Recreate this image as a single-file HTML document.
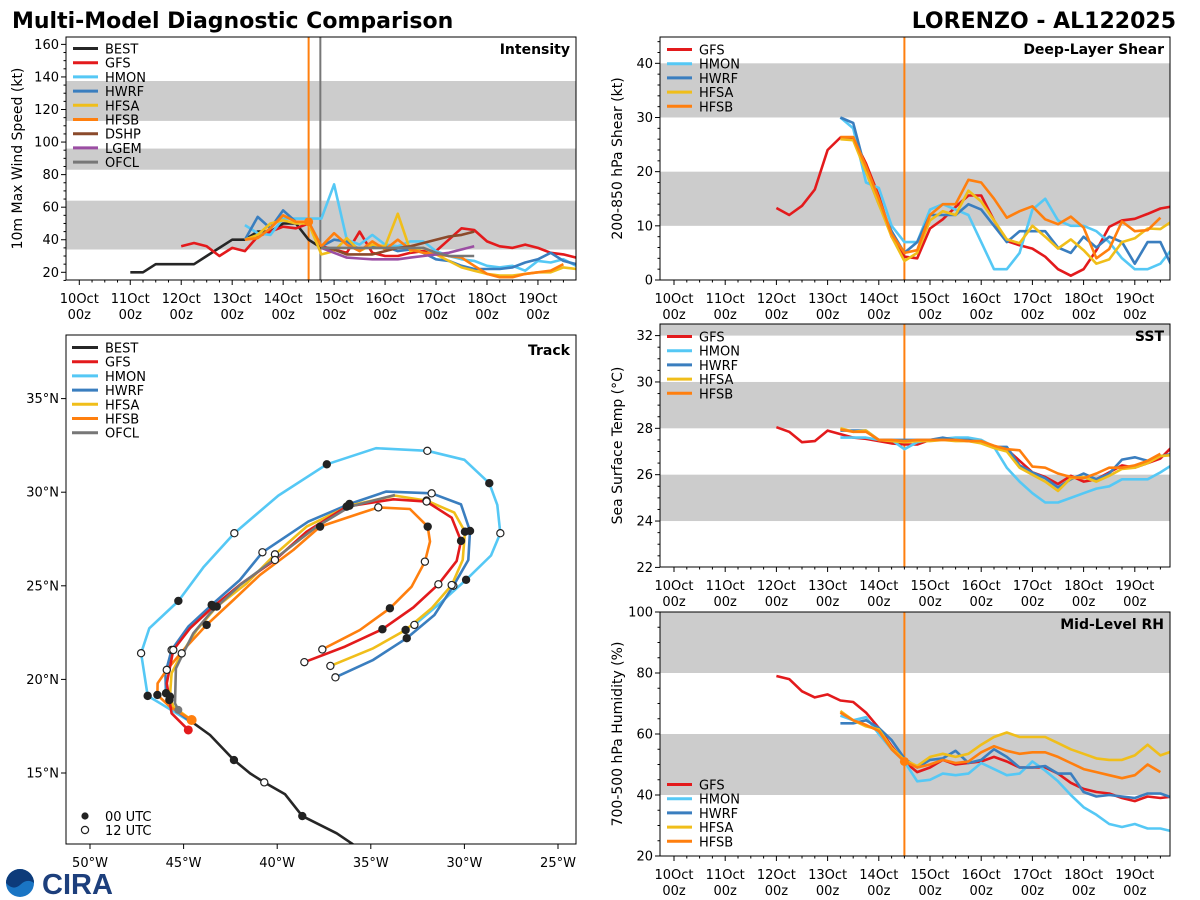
<!DOCTYPE html>
<html><head><meta charset="utf-8"><style>
body{margin:0;background:#fff;}
svg{display:block;font-family:"DejaVu Sans","Liberation Sans",sans-serif;}
</style></head><body>
<svg id="fig" width="1200" height="900" viewBox="0 0 1200 900" xmlns="http://www.w3.org/2000/svg">
<rect width="1200" height="900" fill="#fff"/>
<text x="12" y="28" font-size="22" font-weight="bold" fill="#000">Multi-Model Diagnostic Comparison</text>
<text x="1176" y="28" font-size="22" font-weight="bold" text-anchor="end" fill="#000">LORENZO - AL122025</text>
<g>
<circle cx="20" cy="883" r="14" fill="#1a75c4"/>
<path d="M6,883 a14,14 0 0 1 28,0 q-7,-5 -14,2 q-7,6 -14,-2z" fill="#0d3b7a"/>
<text x="42" y="894" font-size="29" font-weight="bold" fill="#1d3f7c" font-family="Liberation Sans,sans-serif">CIRA</text>
</g>
</svg>
<script>
const C={BEST:'#262626',GFS:'#e31a1c',HMON:'#55c8f5',HWRF:'#3a7ebf',HFSA:'#f0be1a',HFSB:'#ff7f0e',DSHP:'#8b4a2b',LGEM:'#9b4ea3',OFCL:'#777777'};
const dayLabels=['10Oct','11Oct','12Oct','13Oct','14Oct','15Oct','16Oct','17Oct','18Oct','19Oct'];
// Intensity (kt), 6-hourly, start day offset from 10Oct 00z
const intBEST=[20,20,25,25,25,25,30,35,40,40,45,45,50,50,40,35];
const intGFS=[36,38,36,30,35,33,42,45,48,47,50,36,34,32,45,32,30,30,32,33,33,40,47,46,39,36,35,37,35,32,31,29];
const intHMON=[49,44,43,53,53,53,53,74,40,37,43,37,36,39,39,33,30,28,27,24,23,24,21,27,26,28,24];
const intHWRF=[40,54,47,58,51,51,36,40,39,34,36,36,33,34,32,28,27,24,22,22,22,23,26,28,32,27,25];
const intHFSA=[40,43,50,52,50,50,31,33,41,33,37,36,56,33,35,31,27,23,21,19,18,18,19,20,20,23,22];
const intHFSB=[40,41,47,55,51,51,36,44,37,33,39,34,40,34,32,31,30,29,24,19,17,17,19,20,21,25];
const intDSHP=[35,34,31,31,31,33,35,36,38,40,42,43,45];
const intLGEM=[35,32,29,28.5,28,28,28,29,30,31,32,34,36];
const intOFCL=[35,35,35,35,35,35,35,35,35,32,30,30,30];
// Shear (kt)
const shGFS=[13.3,12,13.7,16.7,24,26.3,26.2,21.5,15.5,8,4.3,4,9.5,11.2,13.5,15.6,15.6,11,7.2,6.4,5.8,4.3,2,0.8,2,5.5,9.8,11,11.3,12.2,13.2,13.6];
const shHMON=[30,28,18,17,10,7,7,13,14,13,12,7,2,2,5,13,15,11,10,10,9,7,4,2,2,3,6];
const shHWRF=[30,29,20,14,9,5,7,12,12,12,14,13,10,7,9,9,9,6,5,8,6,8,7,3,7,7,2];
const shHFSA=[26,25.8,20,14,8,3.5,5,11,12.7,12,16.5,14.5,11,7.5,6.8,10,8,5.8,7.5,5.5,3,3.8,7,7.7,9.5,9.4,11];
const shHFSB=[26.4,26.4,21,15,8.5,5,5.5,12,14,14,18.5,18,15,11.5,12.7,13.6,11.2,10.3,11.7,9.7,4,5.7,10.8,9,9.2,11.5];
// SST (C)
const sstGFS=[28.05,27.85,27.4,27.45,27.9,27.75,27.6,27.55,27.45,27.35,27.3,27.3,27.5,27.55,27.5,27.45,27.4,27.2,27.1,26.6,26.1,25.9,25.6,25.95,25.7,25.8,26.1,26.4,26.3,26.5,26.7,27.25];
const sstHMON=[27.6,27.6,27.6,27.5,27.5,27.1,27.4,27.5,27.55,27.6,27.6,27.5,27.2,26.3,25.7,25.2,24.8,24.8,25.0,25.2,25.4,25.5,25.8,25.8,25.8,26.1,26.45];
const sstHWRF=[27.9,27.9,27.9,27.5,27.5,27.5,27.5,27.5,27.6,27.5,27.5,27.4,27.2,27.2,26.4,26.1,25.85,25.45,25.8,26.05,25.8,26.05,26.65,26.75,26.6,26.8,26.9];
const sstHFSA=[28.0,27.85,27.9,27.5,27.45,27.4,27.45,27.45,27.5,27.45,27.45,27.35,27.15,27.0,26.3,26.0,25.7,25.3,25.85,25.9,25.7,25.95,26.25,26.3,26.5,26.8,26.85];
const sstHFSB=[27.95,27.85,27.85,27.5,27.5,27.45,27.5,27.5,27.5,27.5,27.45,27.45,27.25,27.1,27.05,26.35,26.3,26.05,25.9,25.85,26.05,26.3,26.3,26.4,26.6,26.9];
// Mid-level RH (%)
const rhGFS=[79,78,74,72,73,71,70.5,67,62,56,51,47.5,49,51.5,50,50.5,51,52.5,51,49,49,49,47,44,42,41,40.5,39,38,39.5,39,39.5];
const rhHMON=[66,64.5,65.5,60,55,51,44.5,45,47,46.5,47,50.5,48.5,46.5,47,51,48,44.5,40,36,33.5,30.5,29.5,30.5,29,29,28];
const rhHWRF=[63.5,63.5,64.5,62,58,52,49,51.5,52,54.5,50.5,51.5,55,52.5,49,49,49.5,47,47,41,39.5,40,39.5,39,40.5,40.5,39];
const rhHFSA=[67.5,64.5,62.5,61.5,55.5,51.5,49.5,52.5,53.5,52.5,53.5,56.5,59,60.5,59,59,59,57,55,53.5,52,51.5,51.5,53,56.5,53,54.5];
const rhHFSB=[67,64.5,63,61,55,51,49,50,51.5,50.5,51,54,56,54.5,53.5,54,54,52.5,50.5,48.5,47.5,46.5,45.5,46.5,50,47.5];
// Track: west longitude, latitude, marker (f=00UTC, o=12UTC)
const trBESTlon=[44.57,43.59,42.31,41.45,40.69,39.58,38.66,36.82,36.02,34.87];
const trBESTlat=[17.74,17.03,15.69,14.98,14.50,13.86,12.70,11.78,11.24,10.35];
const trBESTmk=['','','f','','o','','f','','',''];
const trHMONlon=[44.66,46.26,46.92,47.27,46.83,45.28,43.94,42.29,39.94,37.35,34.72,31.98,30.00,28.67,28.24,28.08,28.58,29.91,31.30,32.67];
const trHMONlat=[17.75,18.73,19.12,21.40,22.73,24.19,25.99,27.81,29.82,31.49,32.35,32.21,31.73,30.48,29.32,27.81,26.62,25.32,24.07,22.91];
const trHMONmk=['','','f','o','','f','','o','','f','','o','','f','','o','','f','','o'];
const trHWRFlon=[44.66,45.46,45.94,45.97,45.64,44.75,43.50,41.99,40.79,38.34,36.14,34.19,31.75,30.18,29.70,29.79,30.59,31.60,33.08,34.87,36.89];
const trHWRFlat=[17.75,18.37,19.26,20.33,21.57,22.82,23.98,25.31,26.79,28.43,29.37,30.03,29.94,29.35,27.93,26.38,25.00,23.44,22.20,21.04,20.11];
const trHWRFmk=['','','f','','o','','f','','o','','f','','o','','f','','o','','f','','o'];
const trGFSlon=[44.75,45.64,45.76,45.90,45.55,44.66,43.41,41.90,40.12,38.43,36.29,33.80,32.02,30.68,30.18,30.41,31.39,32.73,34.38,36.38,38.55];
const trGFSlat=[17.30,18.19,18.90,19.79,21.57,22.73,23.89,25.13,26.38,27.89,29.23,29.62,29.50,28.64,27.40,26.33,25.08,23.84,22.68,21.75,20.92];
const trGFSmk=['','','f','','o','','f','','o','','f','','o','','f','','o','','f','','o'];
const trHFSAlon=[44.57,45.55,45.73,45.64,45.10,44.30,43.23,41.63,40.12,38.43,36.14,33.71,32.02,30.54,29.97,30.09,30.68,31.75,33.14,34.87,37.16];
const trHFSAlat=[17.83,18.54,19.08,20.33,21.39,22.64,23.89,25.13,26.68,28.16,29.28,29.82,29.55,28.91,27.89,26.38,25.04,23.80,22.64,21.66,20.72];
const trHFSAmk=['','','f','','o','','f','','o','','f','','o','','f','','o','','f','','o'];
const trHFSBlon=[44.57,45.73,46.40,46.39,45.90,45.01,43.77,42.34,40.92,39.14,37.71,35.58,34.60,32.91,31.96,31.84,32.11,32.82,33.98,35.58,37.59];
const trHFSBlat=[17.83,18.54,19.17,19.79,20.51,21.57,22.91,24.24,25.58,26.91,28.16,28.87,29.19,29.10,28.16,27.36,26.29,24.95,23.80,22.64,21.60];
const trHFSBmk=['','','f','','o','','f','','','','f','','o','','f','','o','','f','','o'];
const trOFCLlon=[45.28,45.46,45.41,45.19,44.48,43.59,41.99,40.21,37.89,36.11,33.71];
const trOFCLlat=[18.37,18.72,20.59,21.04,22.46,23.53,25.04,26.38,28.16,29.23,29.85];

const NS='http://www.w3.org/2000/svg';
const svg=document.getElementById('fig');
function el(tag,attrs,parent){const e=document.createElementNS(NS,tag);for(const k in attrs)e.setAttribute(k,attrs[k]);(parent||svg).appendChild(e);return e;}
function txt(s,attrs,parent){const e=el('text',attrs,parent);e.textContent=s;return e;}

function makePanel(p){
  const g=el('g',{});
  
  
  const cid='clip-'+p.name;
  const cp=el('clipPath',{id:cid},g);el('rect',{x:p.x0,y:p.y0,width:p.x1-p.x0,height:p.y1-p.y0},cp);
  const ys=v=>p.yb-(v-p.vb)*p.ppv;
  const xs=t=>p.xb+p.ppd*t;
  p.bands.forEach(b=>{const r=el('rect',{x:p.x0,y:Math.max(p.y0,ys(b[1])),width:p.x1-p.x0,height:Math.min(p.y1,ys(b[0]))-Math.max(p.y0,ys(b[1])),fill:'#cccccc'},g);
    });
  for(let v=p.ymin;v<=p.ymax+1e-6;v+=p.minor){const y=ys(v);if(y<p.y0-0.5||y>p.y1+0.5)continue;
    const maj=Math.abs(v/p.major-Math.round(v/p.major))<1e-6;
    el('line',{x1:p.x0,x2:p.x0-(maj?5:2.5),y1:y,y2:y,stroke:'#000','stroke-width':1},g);
    if(maj){const t=txt(String(Math.round(v*10)/10),{x:p.x0-7,y:y+4.5,'font-size':13,'text-anchor':'end'},g);}}
  for(let q=0;q<40;q++){const t=q/4;const x=xs(t);if(x>p.x1)break;const maj=q%4===0;
    el('line',{x1:x,x2:x,y1:p.y1,y2:p.y1+(maj?5:2.5),stroke:'#000','stroke-width':1},g);
    if(maj){const a=txt(dayLabels[q/4],{x:x,y:p.y1+23,'font-size':13,'text-anchor':'middle'},g);
      const b=txt('00z',{x:x,y:p.y1+39,'font-size':13,'text-anchor':'middle'},g);}}
  const yl=txt(p.ylabel,{x:0,y:0,'font-size':14,'text-anchor':'middle',transform:`translate(${p.ylx},${(p.y0+p.y1)/2}) rotate(-90)`},g);
  
  const lines=el('g',{'clip-path':`url(#${cid})`},g);
  p.vlines.forEach(v=>{const l=el('line',{x1:xs(v[0]),x2:xs(v[0]),y1:p.y0,y2:p.y1,stroke:v[1],'stroke-width':2},lines);});
  p.series.forEach(s=>{const pts=s.vals.map((v,i)=>xs(s.t0+i*0.25).toFixed(1)+','+ys(v).toFixed(1)).join(' ');
    const pl=el('polyline',{points:pts,fill:'none',stroke:C[s.m],'stroke-width':2.6,'stroke-linejoin':'round'},lines);
    });
  if(p.dot){const d=el('circle',{cx:xs(p.dot[0]),cy:ys(p.dot[1]),r:4.5,fill:C.HFSB},lines);}
  el('rect',{x:p.x0,y:p.y0,width:p.x1-p.x0,height:p.y1-p.y0,fill:'none',stroke:'#000','stroke-width':1},g);
  const tt=txt(p.title,{x:p.x1-6,y:p.y0+17,'font-size':14,'font-weight':'bold','text-anchor':'end'},g);
  const lg=el('g',{},g);
  p.legend.forEach((m,i)=>{const y=p.legY+i*p.legDy;
    const e=el('g',{},lg);
    el('line',{x1:p.x0+7,x2:p.x0+32,y1:y,y2:y,stroke:C[m],'stroke-width':3},e);
    txt(m,{x:p.x0+39,y:y+5,'font-size':13},e);});
}
const leg5=['GFS','HMON','HWRF','HFSA','HFSB'];
makePanel({name:'intensity',x0:66,x1:576,y0:37,y1:280,xb:79.3,ppd:50.96,yb:272.3,vb:20,ppv:1.628,ymin:15,ymax:165,major:20,minor:5,
  bands:[[34,64],[83,96],[113,137.5]],ylabel:'10m Max Wind Speed (kt)',ylx:22,title:'Intensity',vlines:[[4.5,C.HFSB],[4.73,'#777777']],
  series:[{m:'BEST',t0:1,vals:intBEST},{m:'GFS',t0:2,vals:intGFS},{m:'HMON',t0:3.25,vals:intHMON},{m:'HWRF',t0:3.25,vals:intHWRF},{m:'HFSA',t0:3.25,vals:intHFSA},{m:'HFSB',t0:3.25,vals:intHFSB},{m:'DSHP',t0:4.75,vals:intDSHP},{m:'LGEM',t0:4.75,vals:intLGEM},{m:'OFCL',t0:4.75,vals:intOFCL}],
  dot:[4.5,51],legend:['BEST','GFS','HMON','HWRF','HFSA','HFSB','DSHP','LGEM','OFCL'],legY:48.5,legDy:14.2});
makePanel({name:'shear',x0:660,x1:1170,y0:37,y1:280,xb:674,ppd:51.2,yb:280,vb:0,ppv:5.417,ymin:0,ymax:45,major:10,minor:2,
  bands:[[10,20],[30,40]],ylabel:'200-850 hPa Shear (kt)',ylx:622,title:'Deep-Layer Shear',vlines:[[4.5,C.HFSB]],
  series:[{m:'GFS',t0:2,vals:shGFS},{m:'HMON',t0:3.25,vals:shHMON},{m:'HWRF',t0:3.25,vals:shHWRF},{m:'HFSA',t0:3.25,vals:shHFSA},{m:'HFSB',t0:3.25,vals:shHFSB}],
  legend:leg5,legY:49.5,legDy:14.2});
makePanel({name:'sst',x0:660,x1:1170,y0:324,y1:567,xb:674,ppd:51.2,yb:567.4,vb:22,ppv:23.18,ymin:22,ymax:32.4,major:2,minor:0.5,
  bands:[[24,26],[28,30],[32,33]],ylabel:'Sea Surface Temp (°C)',ylx:622,title:'SST',vlines:[[4.5,C.HFSB]],
  series:[{m:'GFS',t0:2,vals:sstGFS},{m:'HMON',t0:3.25,vals:sstHMON},{m:'HWRF',t0:3.25,vals:sstHWRF},{m:'HFSA',t0:3.25,vals:sstHFSA},{m:'HFSB',t0:3.25,vals:sstHFSB}],
  legend:leg5,legY:336.5,legDy:14.2});
makePanel({name:'rh',x0:660,x1:1170,y0:612,y1:856,xb:674,ppd:51.2,yb:856,vb:20,ppv:3.05,ymin:20,ymax:100,major:20,minor:5,
  bands:[[40,60],[80,100]],ylabel:'700-500 hPa Humidity (%)',ylx:622,title:'Mid-Level RH',vlines:[[4.5,C.HFSB]],
  series:[{m:'GFS',t0:2,vals:rhGFS},{m:'HMON',t0:3.25,vals:rhHMON},{m:'HWRF',t0:3.25,vals:rhHWRF},{m:'HFSA',t0:3.25,vals:rhHFSA},{m:'HFSB',t0:3.25,vals:rhHFSB}],
  dot:[4.5,51],legend:leg5,legY:784.5,legDy:14.2});

(function(){
  const x0=66,x1=576,y0=335,y1=844;
  const lx=w=>90+(50-w)*18.72, ly=l=>773-(l-15)*18.72;
  const g=el('g',{});
  
  
  const cp=el('clipPath',{id:'clip-track'},g);el('rect',{x:x0,y:y0,width:x1-x0,height:y1-y0},cp);
  [50,45,40,35,30,25].forEach(w=>{const x=lx(w);el('line',{x1:x,x2:x,y1:y1,y2:y1+5,stroke:'#000'},g);
    const t=txt(w+'°W',{x:x,y:y1+23,'font-size':13,'text-anchor':'middle'},g);});
  [15,20,25,30,35].forEach(l=>{const y=ly(l);el('line',{x1:x0,x2:x0-5,y1:y,y2:y,stroke:'#000'},g);
    const t=txt(l+'°N',{x:x0-7,y:y+4.5,'font-size':13,'text-anchor':'end'},g);});
  const inner=el('g',{'clip-path':'url(#clip-track)'},g);
  const tracks=[['HMON',trHMONlon,trHMONlat,trHMONmk],['HWRF',trHWRFlon,trHWRFlat,trHWRFmk],['HFSA',trHFSAlon,trHFSAlat,trHFSAmk],['HFSB',trHFSBlon,trHFSBlat,trHFSBmk],['GFS',trGFSlon,trGFSlat,trGFSmk],['OFCL',trOFCLlon,trOFCLlat,null],['BEST',trBESTlon,trBESTlat,trBESTmk]];
  tracks.forEach(tr=>{const pts=tr[1].map((w,i)=>lx(w).toFixed(1)+','+ly(tr[2][i]).toFixed(1)).join(' ');
    const pl=el('polyline',{points:pts,fill:'none',stroke:C[tr[0]],'stroke-width':2.6,'stroke-linejoin':'round'},inner);
    });
  tracks.forEach(tr=>{if(!tr[3])return;tr[3].forEach((m,i)=>{if(!m)return;
    const c=el('circle',{cx:lx(tr[1][i]),cy:ly(tr[2][i]),r:3.6,fill:m==='f'?'#222':'#fff',stroke:'#222','stroke-width':1.2},inner);
    });});
  const s1=el('circle',{cx:lx(trGFSlon[0]),cy:ly(trGFSlat[0]),r:4.5,fill:C.GFS},inner);
  const s2=el('circle',{cx:lx(trHFSBlon[0]),cy:ly(trHFSBlat[0]),r:5,fill:C.HFSB},inner);
  const s3=el('circle',{cx:lx(trOFCLlon[0]),cy:ly(trOFCLlat[0]),r:4,fill:C.OFCL},inner);
  el('rect',{x:x0,y:y0,width:x1-x0,height:y1-y0,fill:'none',stroke:'#000'},g);
  const tt=txt('Track',{x:x1-6,y:y0+20,'font-size':14,'font-weight':'bold','text-anchor':'end'},g);
  const lg=el('g',{},g);
  ['BEST','GFS','HMON','HWRF','HFSA','HFSB','OFCL'].forEach((m,i)=>{const y=347.5+i*14.2;
    const e=el('g',{},lg);
    el('line',{x1:72,x2:98,y1:y,y2:y,stroke:C[m],'stroke-width':3},e);txt(m,{x:105,y:y+5,'font-size':13},e);});
  const ml=el('g',{},g);
  el('circle',{cx:85,cy:816,r:3.6,fill:'#222'},ml);txt('00 UTC',{x:105,y:821,'font-size':13},ml);
  el('circle',{cx:85,cy:830,r:3.6,fill:'#fff',stroke:'#222','stroke-width':1.2},ml);txt('12 UTC',{x:105,y:835,'font-size':13},ml);
})();
</script>
</body></html>
